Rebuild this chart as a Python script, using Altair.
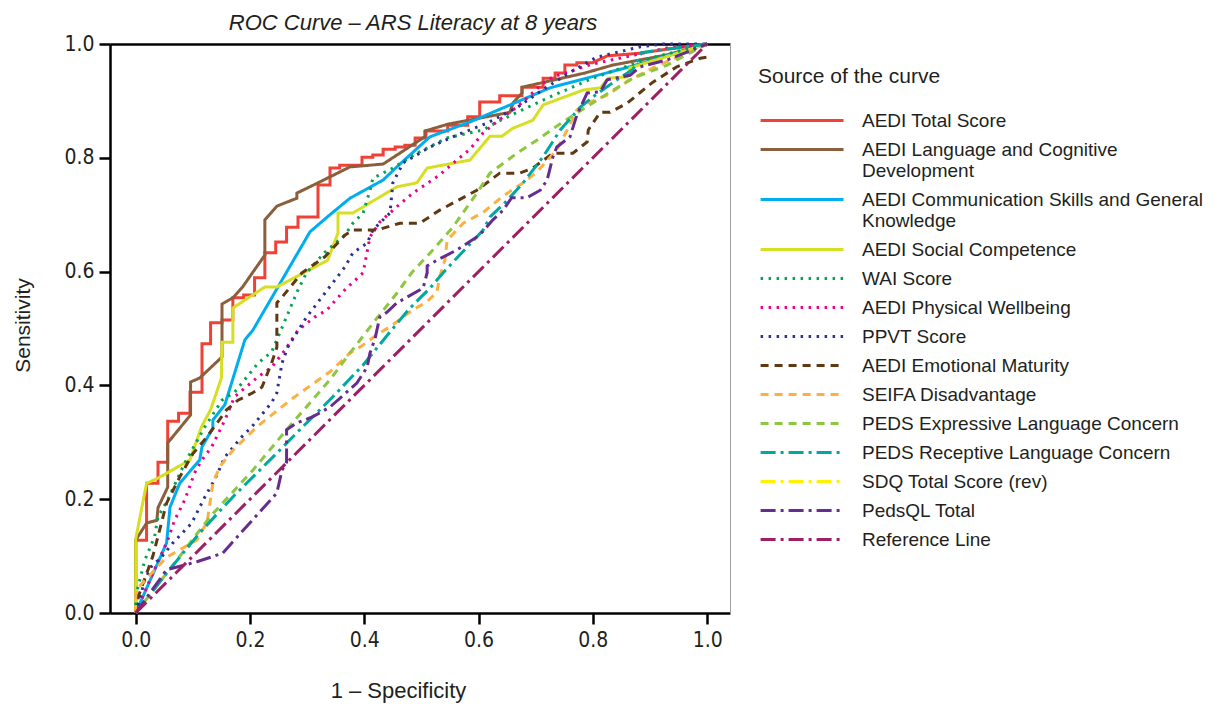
import altair as alt
import pandas as pd

SERIES = [
    "AEDI Total Score",
    "AEDI Language and Cognitive Development",
    "AEDI Communication Skills and General Knowledge",
    "AEDI Social Competence",
    "WAI Score",
    "AEDI Physical Wellbeing",
    "PPVT Score",
    "AEDI Emotional Maturity",
    "SEIFA Disadvantage",
    "PEDS Expressive Language Concern",
    "PEDS Receptive Language Concern",
    "SDQ Total Score (rev)",
    "PedsQL Total",
    "Reference Line",
]
COLORS = ["#ef4136", "#8b5e3c", "#00aeef", "#d7df23", "#00a651", "#ec008c", "#2e3192",
          "#603913", "#fbb040", "#8dc63f", "#00a99d", "#fff200", "#662d91", "#9e1f63"]
SOLID = [1, 0]
DOT = [2.5, 5.5]
DASH = [8, 6]
DASHDOT = [15, 5, 3, 5]
DASHES = [SOLID, SOLID, SOLID, SOLID, DOT, DOT, DOT, DASH, DASH, DASH,
          DASHDOT, DASHDOT, DASHDOT, DASHDOT]

TICKS = [0.0, 0.2, 0.4, 0.6, 0.8, 1.0]

# (1 - specificity, sensitivity) points
AEDI_TOTAL = [(0, 0), (0, 0.128), (0.019, 0.128), (0.019, 0.228), (0.039, 0.228), (0.039, 0.265),
              (0.056, 0.265), (0.056, 0.337), (0.075, 0.337), (0.075, 0.351), (0.095, 0.351),
              (0.095, 0.388), (0.116, 0.388), (0.116, 0.473), (0.131, 0.473), (0.131, 0.510),
              (0.151, 0.510), (0.151, 0.515), (0.170, 0.515), (0.170, 0.554), (0.189, 0.554),
              (0.189, 0.559), (0.208, 0.559), (0.208, 0.589), (0.226, 0.589), (0.226, 0.633),
              (0.245, 0.633), (0.245, 0.652), (0.264, 0.652), (0.264, 0.678), (0.284, 0.678),
              (0.284, 0.696), (0.319, 0.696), (0.319, 0.752), (0.340, 0.752), (0.340, 0.782),
              (0.357, 0.782), (0.357, 0.787), (0.396, 0.787), (0.396, 0.801), (0.415, 0.801),
              (0.415, 0.805), (0.433, 0.805), (0.433, 0.815), (0.454, 0.815), (0.454, 0.819),
              (0.471, 0.819), (0.471, 0.822), (0.489, 0.822), (0.489, 0.835), (0.508, 0.835),
              (0.508, 0.847), (0.546, 0.847), (0.546, 0.857), (0.581, 0.857), (0.581, 0.872),
              (0.602, 0.872), (0.602, 0.898), (0.637, 0.898), (0.637, 0.909), (0.676, 0.909),
              (0.676, 0.924), (0.713, 0.924), (0.713, 0.940), (0.734, 0.940), (0.734, 0.949),
              (0.751, 0.949), (0.751, 0.963), (0.772, 0.963), (0.772, 0.967), (0.799, 0.967),
              (0.825, 0.979), (0.883, 0.984), (0.930, 0.991), (0.970, 0.996), (1.0, 1.0)]
AEDI_LANG = [(0, 0), (0, 0.128), (0.019, 0.158), (0.037, 0.163), (0.039, 0.185), (0.056, 0.221),
             (0.056, 0.299), (0.096, 0.348), (0.096, 0.406), (0.112, 0.413), (0.151, 0.450),
             (0.151, 0.543), (0.170, 0.554), (0.187, 0.573), (0.226, 0.629), (0.226, 0.691),
             (0.247, 0.715), (0.282, 0.729), (0.282, 0.738), (0.319, 0.756), (0.375, 0.784),
             (0.433, 0.789), (0.506, 0.837), (0.506, 0.847), (0.546, 0.859), (0.655, 0.880),
             (0.660, 0.896), (0.676, 0.914), (0.676, 0.924), (0.786, 0.949), (0.835, 0.963),
             (0.930, 0.981), (1.0, 1.0)]
AEDI_COMM = [(0, 0), (0.054, 0.123), (0.060, 0.186), (0.077, 0.228), (0.112, 0.269), (0.116, 0.292),
             (0.135, 0.325), (0.135, 0.339), (0.156, 0.366), (0.191, 0.480), (0.205, 0.497),
             (0.305, 0.670), (0.340, 0.700), (0.375, 0.729), (0.433, 0.761), (0.457, 0.784),
             (0.515, 0.837), (0.585, 0.863), (0.667, 0.898), (0.725, 0.923), (0.865, 0.960),
             (1.0, 1.0)]
AEDI_SOCIAL = [(0, 0), (0, 0.130), (0.019, 0.228), (0.039, 0.237), (0.095, 0.269), (0.115, 0.327),
               (0.131, 0.357), (0.150, 0.413), (0.151, 0.476), (0.170, 0.476), (0.170, 0.536),
               (0.226, 0.573), (0.247, 0.573), (0.336, 0.620), (0.354, 0.668), (0.354, 0.703),
               (0.380, 0.703), (0.457, 0.749), (0.492, 0.756), (0.510, 0.782), (0.585, 0.796),
               (0.620, 0.838), (0.641, 0.838), (0.660, 0.852), (0.695, 0.866), (0.713, 0.893),
               (0.783, 0.919), (0.813, 0.923), (0.827, 0.940), (0.860, 0.942), (0.865, 0.958),
               (1.0, 1.0)]
WAI = [(0, 0), (0, 0.030), (0.016, 0.093), (0.033, 0.134), (0.039, 0.169), (0.056, 0.199),
       (0.086, 0.264), (0.121, 0.327), (0.151, 0.374), (0.173, 0.388), (0.214, 0.439),
       (0.238, 0.459), (0.252, 0.492), (0.284, 0.568), (0.299, 0.598), (0.331, 0.634),
       (0.366, 0.664), (0.380, 0.685), (0.398, 0.703), (0.410, 0.743), (0.415, 0.764),
       (0.450, 0.782), (0.492, 0.808), (0.545, 0.835), (0.608, 0.849), (0.632, 0.863),
       (0.695, 0.893), (0.725, 0.907), (0.800, 0.940), (0.900, 0.975), (1.0, 1.0)]
AEDI_PHYS = [(0, 0), (0.027, 0.063), (0.056, 0.128), (0.068, 0.163), (0.086, 0.199), (0.103, 0.246),
             (0.116, 0.269), (0.133, 0.292), (0.156, 0.339), (0.173, 0.380), (0.214, 0.415),
             (0.238, 0.432), (0.261, 0.462), (0.284, 0.497), (0.313, 0.520), (0.334, 0.532),
             (0.366, 0.568), (0.398, 0.598), (0.410, 0.661), (0.427, 0.687), (0.457, 0.714),
             (0.485, 0.738), (0.532, 0.770), (0.562, 0.796), (0.585, 0.815), (0.608, 0.844),
             (0.643, 0.872), (0.667, 0.889), (0.713, 0.931), (0.730, 0.942), (0.800, 0.965),
             (0.870, 0.980), (0.930, 0.993), (1.0, 1.0)]
PPVT = [(0, 0), (0.016, 0.058), (0.027, 0.081), (0.045, 0.098), (0.065, 0.123), (0.098, 0.158),
        (0.121, 0.204), (0.138, 0.234), (0.156, 0.274), (0.185, 0.309), (0.203, 0.327),
        (0.238, 0.370), (0.247, 0.387), (0.256, 0.439), (0.266, 0.467), (0.299, 0.520),
        (0.331, 0.562), (0.366, 0.608), (0.380, 0.633), (0.405, 0.650), (0.415, 0.673),
        (0.445, 0.703), (0.450, 0.756), (0.468, 0.791), (0.515, 0.819), (0.562, 0.840),
        (0.615, 0.861), (0.667, 0.888), (0.713, 0.920), (0.760, 0.950), (0.807, 0.977),
        (0.883, 0.995), (0.923, 1.0), (1.0, 1.0)]
AEDI_EMO = [(0, 0), (0.005, 0.030), (0.030, 0.100), (0.054, 0.193), (0.077, 0.239), (0.100, 0.280),
            (0.125, 0.310), (0.159, 0.357), (0.179, 0.374), (0.205, 0.387), (0.221, 0.397),
            (0.238, 0.440), (0.247, 0.467), (0.247, 0.545), (0.256, 0.555), (0.291, 0.598),
            (0.331, 0.626), (0.366, 0.664), (0.380, 0.673), (0.422, 0.673), (0.462, 0.685),
            (0.497, 0.685), (0.532, 0.708), (0.597, 0.743), (0.637, 0.773), (0.672, 0.773),
            (0.695, 0.782), (0.730, 0.808), (0.765, 0.808), (0.790, 0.828), (0.792, 0.849),
            (0.813, 0.880), (0.830, 0.880), (0.860, 0.896), (0.905, 0.933), (0.947, 0.960),
            (0.988, 0.975), (1.0, 0.977)]
SEIFA = [(0, 0), (0, 0.040), (0.054, 0.098), (0.107, 0.128), (0.125, 0.160), (0.135, 0.228),
         (0.147, 0.257), (0.170, 0.286), (0.212, 0.327), (0.270, 0.374), (0.340, 0.424),
         (0.375, 0.457), (0.398, 0.471), (0.422, 0.489), (0.445, 0.503), (0.485, 0.533),
         (0.510, 0.547), (0.527, 0.564), (0.532, 0.591), (0.541, 0.620), (0.545, 0.655),
         (0.573, 0.685), (0.608, 0.704), (0.643, 0.733), (0.678, 0.756), (0.702, 0.775),
         (0.737, 0.814), (0.755, 0.849), (0.772, 0.884), (0.790, 0.896), (0.825, 0.910),
         (0.865, 0.937), (0.905, 0.958), (1.0, 1.0)]
PEDS_EXP = [(0, 0), (0.072, 0.093), (0.130, 0.169), (0.205, 0.251), (0.264, 0.322), (0.340, 0.410),
            (0.375, 0.457), (0.422, 0.518), (0.457, 0.562), (0.483, 0.598), (0.520, 0.638),
            (0.555, 0.678), (0.597, 0.738), (0.620, 0.773), (0.667, 0.808), (0.702, 0.831),
            (0.743, 0.860), (0.813, 0.905), (0.870, 0.940), (0.930, 0.963), (1.0, 1.0)]
PEDS_REC = [(0, 0), (0.054, 0.070), (0.112, 0.141), (0.170, 0.204), (0.247, 0.281), (0.287, 0.322),
            (0.345, 0.380), (0.398, 0.436), (0.445, 0.494), (0.480, 0.536), (0.515, 0.571),
            (0.538, 0.598), (0.562, 0.624), (0.580, 0.643), (0.608, 0.673), (0.620, 0.696),
            (0.650, 0.725), (0.678, 0.756), (0.713, 0.802), (0.743, 0.849), (0.778, 0.889),
            (0.800, 0.907), (0.842, 0.937), (0.870, 0.955), (0.885, 0.985), (1.0, 1.0)]
PEDSQL = [(0, 0), (0.054, 0.076), (0.107, 0.090), (0.152, 0.105), (0.247, 0.211), (0.256, 0.251),
          (0.264, 0.265), (0.264, 0.322), (0.282, 0.334), (0.310, 0.345), (0.340, 0.362),
          (0.387, 0.404), (0.405, 0.432), (0.410, 0.457), (0.419, 0.483), (0.427, 0.520),
          (0.440, 0.529), (0.457, 0.545), (0.503, 0.571), (0.510, 0.598), (0.510, 0.610),
          (0.527, 0.620), (0.562, 0.638), (0.602, 0.664), (0.625, 0.691), (0.643, 0.708),
          (0.658, 0.730), (0.685, 0.730), (0.708, 0.743), (0.720, 0.761), (0.730, 0.801),
          (0.737, 0.819), (0.760, 0.837), (0.772, 0.875), (0.790, 0.914), (0.813, 0.916),
          (0.825, 0.937), (0.848, 0.942), (0.865, 0.945), (0.883, 0.960), (0.930, 0.972),
          (1.0, 1.0)]
REFERENCE = [(0, 0), (1.0, 1.0)]

CURVES = {
    "AEDI Total Score": AEDI_TOTAL,
    "AEDI Language and Cognitive Development": AEDI_LANG,
    "AEDI Communication Skills and General Knowledge": AEDI_COMM,
    "AEDI Social Competence": AEDI_SOCIAL,
    "WAI Score": WAI,
    "AEDI Physical Wellbeing": AEDI_PHYS,
    "PPVT Score": PPVT,
    "AEDI Emotional Maturity": AEDI_EMO,
    "SEIFA Disadvantage": SEIFA,
    "PEDS Expressive Language Concern": PEDS_EXP,
    "PEDS Receptive Language Concern": PEDS_REC,
    "PedsQL Total": PEDSQL,
    "Reference Line": REFERENCE,
}

rows = []
for name, pts in CURVES.items():
    for i, (fx, ty) in enumerate(pts):
        rows.append({"series": name, "fpr": fx, "tpr": ty, "idx": i})
df = pd.DataFrame(rows)
df_ref = pd.DataFrame([{"fpr": fx, "tpr": ty} for fx, ty in REFERENCE])

TXT = "#231f20"
SANS = "Liberation Sans, Arial, Helvetica, sans-serif"
NARROW = "Liberation Sans Narrow, DejaVu Sans Condensed, Arial Narrow, sans-serif"

x_scale = alt.Scale(domain=[-0.045, 1.04], nice=False, zero=False)
y_scale = alt.Scale(domain=[0, 1], nice=False, zero=False)

legend = alt.Legend(
    title="Source of the curve",
    orient="none", legendX=648, legendY=22,
    symbolType="M-1,0H11", symbolSize=191, symbolStrokeWidth=3,
    labelExpr="split(replace(replace(datum.label, 'Cognitive ', 'Cognitive|'), 'General ', 'General|'), '|')",
    labelLimit=420, labelFont=SANS, labelFontSize=19, labelColor=TXT, labelOffset=85,
    titleFont=SANS, titleFontSize=21, titleFontWeight="normal", titleColor=TXT,
    titleLimit=420, titlePadding=24, rowPadding=9,
)

lines = alt.Chart(df).mark_line(strokeWidth=3, strokeJoin="miter").encode(
    x=alt.X("fpr:Q", scale=x_scale,
            axis=alt.Axis(values=TICKS, format=".1f", title="1 – Specificity",
                          titleX=288, titleY=84, titleBaseline="alphabetic", titleAlign="center")),
    y=alt.Y("tpr:Q", scale=y_scale,
            axis=alt.Axis(values=TICKS, format=".1f", title="Sensitivity",
                          titleX=-81, titleY=281, titleAngle=270, titleBaseline="alphabetic",
                          titleAlign="center", titleFontSize=21)),
    color=alt.Color("series:N", scale=alt.Scale(domain=SERIES, range=COLORS), legend=legend),
    strokeDash=alt.StrokeDash("series:N", scale=alt.Scale(domain=SERIES, range=DASHES), legend=legend),
    order=alt.Order("idx:Q"),
)

frame = alt.Chart(df_ref).mark_line(opacity=0).encode(
    x=alt.X("fpr:Q", scale=x_scale,
            axis=alt.Axis(orient="top", labels=False, ticks=False, title=None,
                          domainColor="black", domainWidth=2.5)),
    y=alt.Y("tpr:Q", scale=y_scale,
            axis=alt.Axis(orient="right", labels=False, ticks=False, title=None,
                          domainColor="#a0a0a0", domainWidth=1)),
)

chart = alt.layer(lines, frame).resolve_axis(x="independent", y="independent").properties(
    width=620, height=569,
    padding={"left": 102, "top": 36, "right": 487, "bottom": 90},
    autosize=alt.AutoSizeParams(type="none"),
    title=alt.Title("ROC Curve – ARS Literacy at 8 years", font=SANS, fontSize=22,
                    fontStyle="italic", fontWeight="normal", color=TXT, anchor="middle",
                    dx=-7, dy=12, offset=10),
).configure_view(stroke="transparent").configure_axis(
    domainColor="black", domainWidth=2.5, tickColor="black", tickWidth=2.5, tickSize=11,
    labelFont=NARROW, labelFontSize=21, labelColor=TXT, labelPadding=5,
    titleFont=SANS, titleFontSize=22, titleFontWeight="normal", titleColor=TXT, grid=False,
)

chart.save("out.html", embed_options={"renderer": "svg", "actions": False})
